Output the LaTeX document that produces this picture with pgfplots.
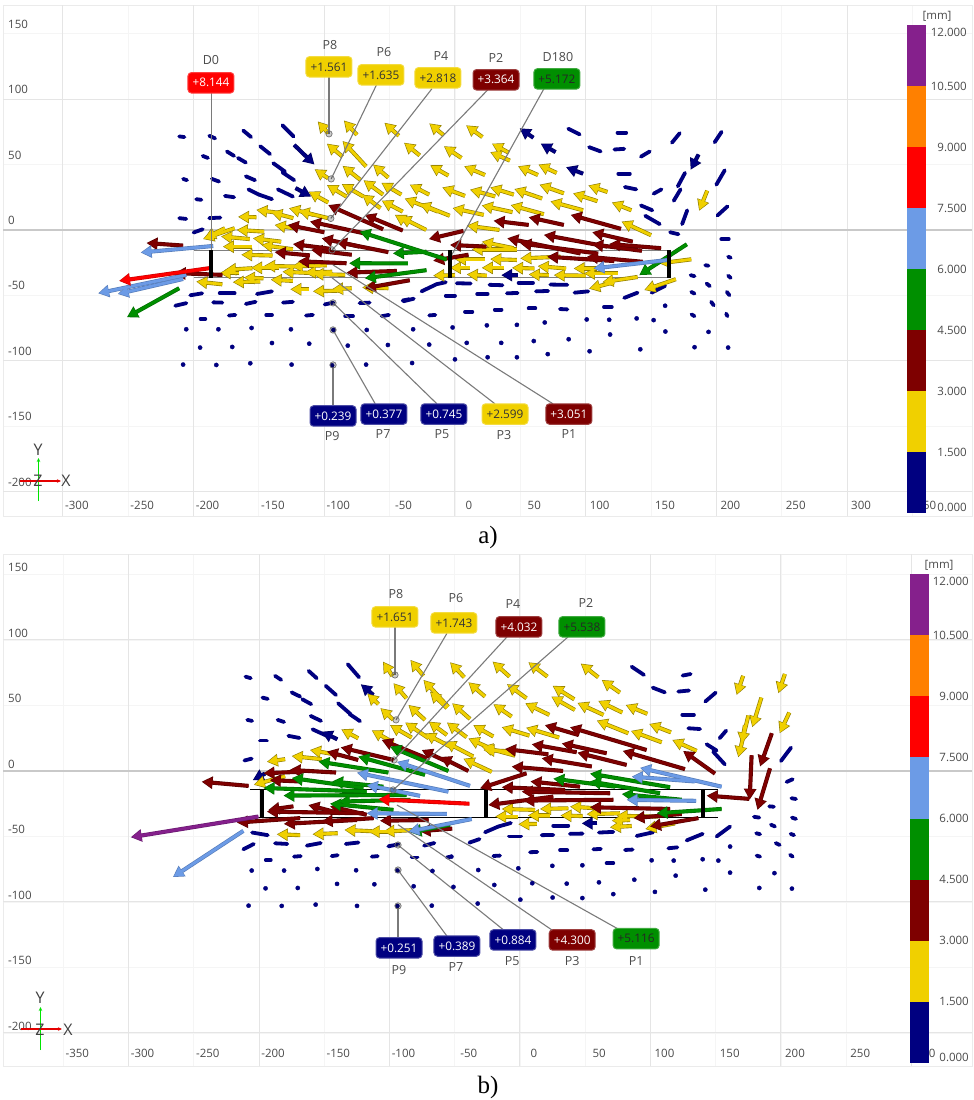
\documentclass[border=0pt]{standalone}
\usepackage{fontspec}
\setmainfont{Open Sans}
\newfontfamily\capfont{Liberation Serif}
\usepackage{pgfplots}
\usepackage{pgfplotstable}
\pgfplotsset{compat=1.18}
\usetikzlibrary{arrows.meta}
\definecolor{cnavy}{HTML}{000080}
\definecolor{cyel}{HTML}{F0D000}
\definecolor{cmar}{HTML}{7E0000}
\definecolor{cgre}{HTML}{008F00}
\definecolor{cblu}{HTML}{6C9BE6}
\definecolor{cred}{HTML}{FF0000}
\definecolor{cora}{HTML}{FF8000}
\definecolor{cpur}{HTML}{85208C}
\definecolor{tl}{HTML}{4A4A4A}
\newcommand{\fs}{\fontsize{11.5}{13}\selectfont}
\newcommand{\fl}{\fontsize{11.8}{13}\selectfont}
\newcommand{\fn}{\fontsize{12.5}{14}\selectfont}
\newcommand{\arrowplot}[3]{%
\addplot[draw=#3,line width=4.1pt,no markers,-{Triangle[length=11pt,width=12pt]},quiver={u=\thisrow{tx}-\thisrow{x},v=\thisrow{ty}-\thisrow{y}}] table[x=x,y=y]{#1};
\addplot[draw=#2,line width=2.8pt,no markers,shorten >=1pt,-{Triangle[length=9.5pt,width=9.8pt]},quiver={u=\thisrow{tx}-\thisrow{x},v=\thisrow{ty}-\thisrow{y}}] table[x=x,y=y]{#1};
}
\newcommand{\dashplot}[1]{%
\addplot[draw=cnavy,line width=3.8pt,line cap=round,no markers,quiver={u=\thisrow{tx}-\thisrow{x},v=\thisrow{ty}-\thisrow{y}}] table[x=x,y=y]{#1};
}
\newcommand{\dotplot}[1]{%
\addplot[only marks,mark=*,mark size=2.1pt,color=cnavy] table[x=x,y=y]{#1};
}
\tikzset{
 lab/.style={rounded corners=3.5pt,minimum width=46pt,minimum height=20.5pt,inner sep=0pt,font=\fl,line width=1pt},
 nav/.style={lab,fill=cnavy,draw=cnavy!70!white,text=white},
 yel/.style={lab,fill=cyel,draw=cyel!75!white,text=black!80},
 mar/.style={lab,fill=cmar,draw=cmar!75!white,text=white},
 gre/.style={lab,fill=cgre,draw=cgre!75!white,text=black!85},
 rd/.style={lab,fill=cred,draw=cred!75!white,text=white},
 nm/.style={font=\fn,text=tl,inner sep=0pt},
}
\pgfplotsset{
 panel/.style={scale only axis,width=969pt,height=511pt,
  axis line style={draw=gray!16,line width=.9pt},
  major tick length=0pt,tick style={draw=none},
  xmajorgrids,ymajorgrids,grid style={draw=gray!8,line width=.9pt},
  tick label style={text=tl,font=\fs,inner sep=0pt},
  ytick={-200,-150,...,150},yticklabels={-200,-150,-100,-50,0,50,100,150},
  extra y ticks={-200,-100,0,100},extra y tick labels={},
  extra tick style={grid=major,grid style={draw=gray!20,line width=1pt}},
 },
 cbar/.style={scale only axis,width=19pt,xmin=0,xmax=1,ymin=0,ymax=12,
  axis line style={draw=none},major tick length=0pt,tick style={draw=none},xtick=\empty,
  ytick={0.13,1.5,3,4.5,6,7.5,9,10.5,11.83},
  yticklabels={0.000,1.500,3.000,4.500,6.000,7.500,9.000,10.500,12.000},
  yticklabel pos=right,
  tick label style={text=tl,font=\fs,inner sep=0pt},
 },
 seg/.style={fill=#1,draw=none,area legend},
}
\newcommand{\cbarfill}{%
\addplot[seg=cnavy] coordinates {(0,0)(1,0)(1,1.5)(0,1.5)} -- cycle;
\addplot[seg=cyel] coordinates {(0,1.5)(1,1.5)(1,3)(0,3)} -- cycle;
\addplot[seg=cmar] coordinates {(0,3)(1,3)(1,4.5)(0,4.5)} -- cycle;
\addplot[seg=cgre] coordinates {(0,4.5)(1,4.5)(1,6)(0,6)} -- cycle;
\addplot[seg=cblu] coordinates {(0,6)(1,6)(1,7.5)(0,7.5)} -- cycle;
\addplot[seg=cred] coordinates {(0,7.5)(1,7.5)(1,9)(0,9)} -- cycle;
\addplot[seg=cora] coordinates {(0,9)(1,9)(1,10.5)(0,10.5)} -- cycle;
\addplot[seg=cpur] coordinates {(0,10.5)(1,10.5)(1,12)(0,12)} -- cycle;
}
%====================== PANEL A
\pgfplotstableread{
x y tx ty
-211 71.5 -207 71
-188 72 -183.5 70
-162 76 -156 71
-132 80 -123.5 71.5
-193 56.6 -189 55
-174.5 60 -169 56.6
-166 55 -160 51.5
-149 64 -141.5 58
-208 39 -205 38
-186 39 -180.5 37
-160 41 -153 38
-139 51 -130 44.6
-132 44 -123 38
-198 23.5 -194 23
-176 26 -169 25
-158 31 -150 27
-150 27 -140 23.5
-135.5 31 -124 25.5
-211 9 -205.6 8.4
-188 9 -179.5 9.4
-200 -2 -193 0.5
-202.5 -50 -193.4 -48.5
-180 -48.5 -168.6 -48.5
-151.5 -49 -140 -47
-214 -58 -205.5 -56
-185 -55.4 -178 -55.6
-160 -56.6 -152.5 -55
-131.6 -55.6 -124 -55
-99.7 -57 -93 -55.6
-73 -56 -65.3 -55.6
-40 -54 -35 -53
-194.6 -68 -191 -68
-173 -65.5 -168 -65
-144.4 -65 -140 -65
-114 -65.5 -108.7 -65
-84 -66 -78 -66
-56 -66 -50.5 -65
86.7 77.4 95.4 73
124.4 74.4 131 74.4
166 66.7 172 74
198.7 67 204 75
102.6 63.3 111.5 60
122 61.5 129.5 62
142.3 56 149 60
125 43 133.8 43
170.5 33.3 176 43.6
200 34.6 206.4 45.6
130 32.8 138.7 31
152 27.7 158 31
167.4 22.3 172.6 31
142.3 18.7 151 15
200.8 11 208.5 18
145.6 10.8 156.7 4.4
173.8 4.4 177.7 15
164.6 -1.8 171 -3.3
203.8 -7 209.5 -7
209 -20.5 211 -21.3
191.5 -27 194 -27.4
180.3 -34.6 183.3 -35.4
209 -35 211 -36.7
192.5 -41 195 -43
208 -47.4 210 -50
180.8 -47.4 183.3 -48.7
196 -55 198 -57.7
181 -64.6 183.3 -66
207.5 -64 208.5 -66
-19.7 -65.4 -15 -65
7.7 -62.6 13.3 -62.6
30.5 -61 35.6 -61
56.4 -60 61.5 -60
80.3 -60.5 86 -60.8
114 -59 120 -59
-39.5 -54.6 -31.5 -52.6
-7 -50.3 0 -50.3
17 -49 25 -49
39.7 -48.5 48 -48.2
62 -47 71.3 -46.7
91.5 -48 102 -47
129.5 -52 139.7 -48
150.5 -48 160.8 -42.8
-25.6 -47 -14 -41.5
-14 -41.5 -7 -40
1.3 -40.8 12 -41
26.4 -42 36.4 -42.3
48.7 -40.5 59.7 -40.5
73 -41.8 86 -42
}\aDash
\pgfplotstableread{
x y
-205.6 -76
-181 -76
-155.6 -75
-125.5 -76
-93 -76.5
-67.5 -76.5
-195 -90
-170.4 -89.5
-140 -86.5
-111.5 -87
-82 -88.5
-51.3 -88
-208 -103
-182.6 -103.3
-156.6 -102
-125 -103
-94 -103.6
-68 -103
160.8 -58
194 -78
161 -77.7
139 -67.7
152 -69
183.3 -89.7
209 -90
141.8 -91.3
103 -92.8
118.7 -80
118 -68.7
100.8 -68.5
87 -83.6
71 -95
60.3 -85
47.4 -97.4
35.4 -86.4
25 -97.4
9 -86.4
0 -99
-19.7 -87.7
-32.8 -101.8
-32 -76
-1.8 -74.6
24.4 -73
47.4 -72.6
68.7 -70.8
}\aDot
\pgfplotstableread{
x y tx ty
-123 65 -107.5 50
-122 32 -110 25.5
60 70.5 49.5 77.7
77 59.5 65.6 66
186.4 57.7 180.3 46
98 43 85 48
47.9 -34.6 35.4 -34.6
}\aNavyArr
\pgfplotstableread{
x y tx ty
-8.5 72.3 -19.7 81.5
21 71 8.5 80
41.3 59 28.3 66
5 55 -8.5 64
-27 57 -39 66.7
42 53 27 59.5
63.5 42 48.2 48.7
77.8 43.6 63.8 50
23 42 7 48.7
-5 41.5 -19 49.5
45 27 27 32.5
66.7 24 45.4 31.3
30.8 25.6 11.5 30.8
7.7 26 -9.7 32.5
-19.7 27 -34.6 34.6
83.3 28 64.6 34.6
109 22 90.3 28
116.7 29 102 34
135 15 120 21
98 15 73 21.8
68 12 42.6 19
44 13.6 20.5 18.7
22 11.5 -1.8 16.7
-4 10.8 -27 20
-13 14 -38.5 24
-22 0 -42 10
150 -4 127.4 6.4
34 0 9 3.3
44.9 -14 20.5 -9
180.8 -22.5 156.4 -25.6
23 -22.5 0 -22.5
47.4 -23 27 -22.3
80.8 -20.5 50 -21.8
11.5 -29 -3.8 -29
37.7 -29 20.5 -29
60.8 -29.5 43.6 -29
85 -29.5 63.3 -27.7
109 -29.5 90.8 -29.5
47.4 -15 12.8 -15
0 -34.6 -16.7 -35
24.4 -35 9 -34
71.8 -34.6 56.4 -34
100 -35 75.6 -34.6
124.4 -33.3 98.7 -33.3
139.7 -36 112.8 -40
121.8 -40 102.6 -45
169 -37.7 144.8 -46
193 30 186.8 14.6
-97 74 -105 83
-75 72.7 -85 83.7
-43 72 -54 82
-86 56 -98 66
-68 48.5 -86 68
-51 40 -62.7 50
-97 39.5 -107.4 46.4
-72 38 -86 49
-83 25.5 -98 34.4
-70 25.5 -86.6 35
-55 27 -70 38
-41 27 -56.3 36
-97 21 -112 29.3
-57 16.6 -71 27
-40 14 -56 22.4
-35 5 -46 11.5
-152 9.7 -166 10
-133 12.8 -152 15.3
-123.7 9 -140.6 13.5
-108 11.5 -127 16.6
-97 9 -119.7 14.5
-123.7 1.3 -138 3.8
-168.6 1.3 -192.8 -7
-176 1.3 -191.5 -6.4
-146 -1.3 -167 0
-157 -7 -179 -5
-155 -12.8 -177.6 -12.8
-133 -9 -154.6 -6.4
-124 -14.8 -148 -11.5
-139.6 -19.6 -163.5 -19
-155 -29.3 -176 -30.6
-135 -29 -156 -29
-122.7 -28 -146 -27.5
-98 -27 -125 -28
-109 -33 -132 -32
-94 -32 -115 -32.6
-84 -34.4 -109 -33.7
-165 -33 -180 -33
-146.5 -37 -161.5 -36.5
-178 -41.6 -198 -39.5
-149 -39.5 -170 -40
-124 -39 -141 -38
-111.6 -45.4 -126 -45.4
-87 -46.4 -108.7 -47
-79 -44.6 -94 -45.4
-51 -44.6 -71 -44
}\aYel
\pgfplotstableread{
x y tx ty
56.4 3.8 29.5 7
83.3 3.8 56.4 9.7
127 0.8 88.5 11.5
6.4 -0.8 -20 -7
24 -12.8 -3.8 -11.5
10.3 -19 -16.7 -23.6
136 -9 105 -1.8
116.7 -12.8 68 -3.8
157.7 -14 118 -10.8
143 -16 105 -11
96 -18 40 -6.4
109 -18 50 -10.3
143.6 -24.4 101 -20.5
121.8 -23.8 70.5 -20.5
-55 0.5 -97 19
-40 -0.5 -69 11.5
-70 -2.5 -111 6.4
-100 -1.8 -128 3.8
-51 -17 -91 -9
-73 -12.8 -102 -6.4
-95 -14.5 -124 -10.8
-79 -19 -110 -15.3
-111 -19.5 -138 -17
-83 -25.5 -120 -24
-44.5 -31.4 -83 -32.7
-34.6 -38.5 -69 -44.6
-208 -12 -236 -10
-178 -34.4 -214.5 -33
}\aMar
\pgfplotstableread{
x y tx ty
177.4 -11 141 -34.6
-6.4 -22.6 -73 -1.3
-21.8 -16.7 -47.5 -18
-36 -25.6 -81 -25.5
-21.8 -30.8 -69 -37
-211 -44.6 -251 -66.8
}\aGre
\pgfplotstableread{
x y tx ty
163 -23 105.9 -29.5
-185 -12.3 -240.5 -17.3
-205.6 -34.4 -273 -48.5
-208 -37.5 -258 -49
}\aBlu
\pgfplotstableread{
x y tx ty
-188 -29.3 -257 -39
}\aRed
%====================== PANEL B
\pgfplotstableread{
x y tx ty
-210.4 72 -206.3 70.8
-187.7 72.6 -183 69.5
-162 76.4 -155.8 70.8
-132 81.5 -123.3 71.5
-197.4 56 -193.3 55
-175 60 -168.5 56.8
-166.8 54.7 -160 51
-148.9 65 -141 58
-139.4 51.7 -130 43.5
-130.7 43.5 -122.6 38
-209 39 -205.3 38.2
-185.7 39 -180.8 37.4
-160.4 42 -152.5 38.2
-159 31.8 -148 26.8
-177.5 26.8 -169 25.2
-199.2 23.2 -194 23.2
-211.2 8 -205.6 9.4
-205.3 -47 -193.3 -49
-212 -59.8 -204 -55.7
-187.7 -55.2 -178.3 -55.7
-163.4 -57 -152.7 -55
-133.5 -55.7 -123.8 -54.6
-100.9 -57.5 -93.2 -56
-73.5 -57 -65.6 -55
-194.8 -68 -191 -68
-173.2 -65.4 -168 -65
-144.3 -65 -139.7 -64.3
-113.6 -65.4 -109 -65
-83 -66 -78.6 -66
-56 -66 -53.6 -65.5
85.6 79.6 95 73.3
124.6 72.8 130.8 74
142 53 150 59.8
101.7 63.6 111 60
121.3 60.6 129.5 61.4
124.4 42.8 133.3 42.8
129 32.6 138 32
153 25 158 30.8
143 20.4 150.7 15.6
148 14.8 157 5
200 7.6 207.7 17.8
204.3 -8.4 209 -6.3
208 -20.8 211.5 -21.4
191 -27 194.6 -27.3
179.3 -35 183.4 -35.6
208.4 -35.6 211.5 -36.6
181 -47.5 184 -48.3
192.3 -41 195.4 -42.4
207.4 -48 210 -49
196 -55 199 -56.5
181.3 -64.6 184 -65.4
207 -64 209 -65.4
66.4 -70.4 71.5 -70.4
80.5 -60.3 86.3 -60
56.2 -59.8 62 -59.5
30.7 -60.5 36.2 -60.5
7.7 -62 13.3 -61.8
-20.4 -64.9 -15.3 -64.6
113.7 -59 120.6 -58.3
-38.8 -54.7 -31 -52
-8.4 -50 0.8 -50
16.6 -49 25.5 -48.8
38.3 -48 48 -47.8
60.5 -47 71.5 -46.5
89.4 -49.6 102 -46.8
127.7 -53 140 -48
150.7 -50 161 -42.4
-26.8 -46.8 -16.6 -42.4
-16.6 -42.4 -7 -39.7
25.5 -41.7 37 -41.7
}\bDash
\pgfplotstableread{
x y
-205.6 -76
-180.8 -76
-155.3 -74.8
-125.6 -75.8
-94 -76
-67.1 -76.3
-195 -89.6
-170.3 -89.3
-140.2 -86.2
-111.6 -86.5
-81.5 -88
-208 -102.8
-182.6 -103
-156.6 -102
-124.9 -103
-94 -103
-67.6 -102.8
161 -57.7
195 -78
161 -77.6
140 -67.4
152 -68.4
183.4 -89.3
208.4 -89.8
142 -90.6
103.4 -92.3
119.3 -79.9
117.8 -68.4
100.9 -68.2
87.6 -83
71.5 -94
60.5 -85
47.8 -97
35.8 -86
25 -96.6
9.4 -85.7
0.3 -98.2
-19.7 -87
-32.4 -101.2
-51 -88.5
47.8 -72
24.8 -72.4
-1.3 -74.3
-32 -75.6
-52.6 -65.4
}\bDot
\pgfplotstableread{
x y tx ty
-112.4 58 -122 66.2
-140 24.2 -152 30
-195.4 -2 -204.8 -7
59.3 -40 47.3 -40
}\bNavyArr
\pgfplotstableread{
x y tx ty
-42.7 71.5 -53.6 83
-8 72 -21 83.5
21 72 6.4 83
60 71.5 46.5 82
76.6 59.8 62.6 69.5
-26.8 56.8 -39.6 67.7
5 55.5 -10 66.3
41.6 54.7 25 65
-6.4 41.5 -20.4 51
22.5 42.8 4 51.7
42 46.6 24 56.8
64 42.8 44 52
78.4 44.6 60 53.5
97.6 43.6 81 50.4
-38.3 39.7 -52 51.7
-20.4 26.3 -35.8 35
7.2 27 -14 33.4
30 25.5 4.6 33
-40.9 25.8 -56 37
115.7 29.5 99 35.9
83 28.8 58.8 38.5
108.6 21.9 85 30.6
135.4 15.3 116.7 23.7
-35.8 11 -57.5 22.4
-21.7 -0.7 -43.4 9.4
-3.8 11.7 -29.4 18.6
-3.8 14.8 -28 16
-25.5 18.6 -39.6 24.8
11.5 -29.7 -14 -29
37 -28.5 15.3 -29
58.7 -28.5 38.3 -27.2
-1.3 -34.8 -19 -34.8
23 -34 6 -34
48 -34.4 31 -34
76.6 -32.3 51 -33
106 -34.8 74 -34.2
84.3 -37.4 70.3 -38
13 -40.4 -1.3 -40.7
85.6 -42 68.9 -43
118.8 -40 96 -44.3
171 72.6 166 58
203 74 198 59.3
185 56 178 33.4
206.4 44.6 199 28.8
175 42.3 167.3 10.4
172.4 35 170 21
-97.7 72.5 -105 83.5
-74 72.6 -84 84.8
-87 55.5 -97 67
-55 49 -74 69.5
-56 48 -69 60.6
-108.5 51 -117 59
-97 39 -107 48
-72.8 39 -85.5 50.4
-56 27.5 -70 37.7
-83 25.5 -99.6 35
-70 25 -88 37
-97 21.7 -113.6 31
-124 25 -137 31.8
-53.6 18.6 -72.8 28.7
-137.9 12 -161 16
-152 9 -175 11.4
-180 9 -194 7
-180 -4 -204 -10.6
-168.5 -49 -186.4 -48.3
-139.7 -47.5 -159 -48.3
-113.6 -46 -134.6 -45
-100.9 -46.3 -116 -46.3
-79 -45 -104.7 -46.3
}\bYel
\pgfplotstableread{
x y tx ty
193 28.8 184 3.4
191.6 2 182 -29.7
177.5 12 176 -22
175.7 -21.3 143 -18.8
149.4 -2 125 15.3
126.4 1.4 78.7 15.3
97 16 38.3 33.4
44.7 27.5 19 35
81.7 4.6 44 14
66.4 13.5 32 21
43.4 14.3 9 20.4
21.7 12.7 -11.5 16.8
55 3.4 16.6 9.7
33 0 -6.4 3.3
5 -1.8 -30.7 -13.3
-39.6 0 -61 10.7
46 -12 8 -8
34.5 -14.5 -14 -12.4
69 -17 1.3 -15.8
71.5 -22 2.5 -22.6
25.5 -19.6 -24.3 -26
115 -29 53.6 -27.7
124 -32.8 87 -36
136.7 -36 99.6 -42.4
-97 8.4 -137.4 18
-71.5 9.7 -106 23.7
-53.6 6 -75.3 16
-124 8.4 -148 14.8
-141 -1.2 -176.6 0.8
-166 -0.5 -196.6 -1.8
-208 -11.4 -244 -8.2
-168.5 -8 -191.7 -7
-119.8 -32.3 -194 -31
-168.5 -36 -217 -39.4
-125 -37.4 -181 -40.4
-112 -36 -152 -38.6
-70 -37.4 -107.3 -38
-138 -32.3 -162.2 -26
-173.7 -27 -192.8 -29.7
-117.5 -33.4 -145.6 -27
-52 -44 -77 -46
}\bMar
\pgfplotstableread{
x y tx ty
115 -12.4 53.6 -2
73 -12 25.5 -5.9
107.3 -17 53.6 -8
124 -22 78 -17.6
154.5 -29 104.7 -32.3
-54.9 0 -99.6 18.6
-72.8 -3 -124 11
-100.9 -1.2 -154.5 7.2
-120 -13 -174.9 -5.4
-104.7 -12 -144 -8
-86.8 -18.3 -181.3 -18.8
-117.5 -15.7 -196.6 -13
-84 -22 -139 -23.4
-97 -29.7 -145.6 -25
-53.6 -41 -84 -47
}\bGre
\pgfplotstableread{
x y tx ty
154.5 -12 92 2.4
134 -8 85.6 -4.3
134.9 -22.8 81.7 -22
-54.9 -15.8 -125 -1.3
-38.3 -11.4 -94.3 7
-76.6 -19 -117.5 -10.7
-56 -32.8 -117.5 -32.3
-37 -36.7 -85.5 -46.3
-212 -45.7 -266 -81
}\bBlu
\pgfplotstableread{
x y tx ty
-38.8 -25 -108.5 -21.6
}\bRed
\pgfplotstableread{
x y tx ty
-200.5 -34.8 -298.3 -50.6
}\bPur
\newcommand{\leader}[4]{\addplot[draw=black!52,line width=1.1pt,no markers] coordinates {(#1,#2)(#3,#4)};}
\begin{document}
\begin{tikzpicture}[x=1pt,y=1pt]
\useasboundingbox (0,0) rectangle (974,-1100);
%---------------- a
\begin{axis}[panel,at={(3pt,-516pt)},anchor=south west,
 xmin=-345.8,xmax=395.6,ymin=-218.8,ymax=172,
 xtick={-300,-250,...,350},xticklabels={-300,-250,-200,-150,-100,-50,0,50,100,150,200,250,300,350},
 extra x ticks={-300,-200,-100,0,100,200,300},extra x tick labels={},
 xticklabel style={anchor=center,xshift=14pt,yshift=11pt},
 yticklabel style={anchor=west,xshift=5pt,yshift=9.5pt},
]
\addplot[draw=gray!42,line width=1.2pt,no markers] coordinates {(-345.8,0)(395.6,0)};
\addplot[draw=black!50,line width=1.3pt,no markers] coordinates {(-200,-16)(165,-16)};
\addplot[draw=black!50,line width=1.3pt,no markers] coordinates {(-200,-36.5)(165,-36.5)};
\dashplot{\aDash}
\dotplot{\aDot}
\arrowplot{\aNavyArr}{cnavy}{cnavy!70!black}
\arrowplot{\aYel}{cyel}{black!40!cyel}
\arrowplot{\aMar}{cmar}{cmar!70!black}
\arrowplot{\aGre}{cgre}{cgre!75!black}
\arrowplot{\aBlu}{cblu}{cblu!80!black}
\arrowplot{\aRed}{cred}{cred!80!black}
\leader{-186.5}{107}{-186.5}{-35}
\leader{-96.4}{117}{-96.4}{73.5}
\leader{-60}{111}{-94.7}{39}
\leader{-17.6}{108}{-95}{8.8}
\leader{25}{107}{-94}{-15.3}
\leader{68.1}{108}{-3.8}{-21.5}
\leader{-93.3}{-134.6}{-93.3}{-103.3}
\leader{-61}{-133}{-93.3}{-76.5}
\leader{-13.8}{-133}{-93.3}{-55.8}
\leader{30.6}{-133}{-94}{-36.7}
\leader{75}{-133}{-93.3}{-26.8}
\addplot[only marks,mark=*,mark size=3.2pt,color=black!55,mark options={line width=.7pt,fill=black,fill opacity=.2}] coordinates {(-96.4,73.5)(-94.7,39)(-95,8.8)(-94,-15.3)(-93.3,-103.3)(-93.3,-76.5)(-93.3,-55.8)};
\addplot[draw=black,line width=4pt,no markers] coordinates {(-186.5,-15.3)(-186.5,-37)};
\addplot[draw=black,line width=4pt,no markers] coordinates {(-3.8,-15.3)(-3.8,-37)};
\addplot[draw=black,line width=4pt,no markers] coordinates {(164,-15.3)(164,-37)};
\node[rd] at (axis cs:-186.7,112.5) {+8.144};\node[nm] at (axis cs:-186.7,130) {D0};
\node[yel] at (axis cs:-96.4,124.7) {+1.561};\node[nm] at (axis cs:-95.6,141.5) {P8};
\node[yel] at (axis cs:-56.6,118.6) {+1.635};\node[nm] at (axis cs:-54.3,136) {P6};
\node[yel] at (axis cs:-13,116.3) {+2.818};\node[nm] at (axis cs:-10.7,133) {P4};
\node[mar] at (axis cs:31.4,114.8) {+3.364};\node[nm] at (axis cs:31.4,131.6) {P2};
\node[gre] at (axis cs:78,115.5) {+5.172};\node[nm] at (axis cs:78.8,132.4) {D180};
\node[nav] at (axis cs:-93.3,-142.3) {+0.239};\node[nm] at (axis cs:-94,-157.6) {P9};
\node[nav] at (axis cs:-54.3,-140.8) {+0.377};\node[nm] at (axis cs:-55,-156) {P7};
\node[nav] at (axis cs:-8.4,-140.8) {+0.745};\node[nm] at (axis cs:-10,-156) {P5};
\node[yel] at (axis cs:38.3,-140.8) {+2.599};\node[nm] at (axis cs:37.5,-156.8) {P3};
\node[mar] at (axis cs:87.2,-140.8) {+3.051};\node[nm] at (axis cs:87.2,-156) {P1};
\end{axis}
\begin{axis}[cbar,at={(907pt,-513pt)},anchor=south west,height=488pt,yticklabel style={anchor=east,xshift=41pt}]
\cbarfill
\end{axis}
\node[font=\fs,text=tl,inner sep=0pt] at (937,-16) {[mm]};
%---------------- triad a
\draw[draw=green!90!black,line width=1.3pt,-{Stealth[length=4pt,width=3.5pt]}] (38.5,-501) -- (38.5,-458);
\draw[draw=red!90!black,line width=1.3pt,-{Stealth[length=4pt,width=3.5pt]}] (20,-481) -- (61,-481);
\node[font=\fontsize{16}{17}\selectfont,text=black!75,inner sep=0pt] at (38,-450) {Y};
\node[font=\fontsize{16}{17}\selectfont,text=black!75,inner sep=0pt] at (66,-481) {X};
\node[font=\fontsize{16}{17}\selectfont,text=black!75,inner sep=0pt] at (38,-481) {Z};
\node[font=\capfont\fontsize{25}{26}\selectfont,inner sep=0pt] at (488,-537) {a)};
%---------------- b
\begin{axis}[panel,at={(3pt,-1066pt)},anchor=south west,height=512pt,
 xmin=-396.2,xmax=346.4,ymin=-225.2,ymax=165.6,
 xtick={-350,-300,...,300},xticklabels={-350,-300,-250,-200,-150,-100,-50,0,50,100,150,200,250,300},
 extra x ticks={-300,-200,-100,0,100,200,300},extra x tick labels={},
 xticklabel style={anchor=center,xshift=14pt,yshift=13pt},
 yticklabel style={anchor=west,xshift=5pt,yshift=7pt},
]
\addplot[draw=gray!42,line width=1.2pt,no markers] coordinates {(-396.2,0)(346.4,0)};
\addplot[draw=black,line width=.9pt,no markers] coordinates {(-207,-14.2)(152,-14.2)};
\addplot[draw=black,line width=.9pt,no markers] coordinates {(-207,-35.6)(152,-35.6)};
\dashplot{\bDash}
\dotplot{\bDot}
\arrowplot{\bNavyArr}{cnavy}{cnavy!70!black}
\arrowplot{\bYel}{cyel}{black!40!cyel}
\arrowplot{\bMar}{cmar}{cmar!70!black}
\arrowplot{\bGre}{cgre}{cgre!75!black}
\arrowplot{\bBlu}{cblu}{cblu!80!black}
\arrowplot{\bRed}{cred}{cred!80!black}
\arrowplot{\bPur}{cpur}{cpur!80!black}
\leader{-95.8}{110}{-95.8}{73.3}
\leader{-56}{105}{-95}{39}
\leader{-10}{102.3}{-96.5}{8.4}
\leader{36.8}{102.3}{-97.3}{-14.5}
\leader{-93.5}{-127.5}{-93.5}{-103}
\leader{-56}{-126}{-93.5}{-75.6}
\leader{-13}{-121}{-93.5}{-56.5}
\leader{24.5}{-121.4}{-93.5}{-41}
\leader{76.6}{-121.4}{-94.3}{-26}
\addplot[only marks,mark=*,mark size=3.2pt,color=black!55,mark options={line width=.7pt,fill=black,fill opacity=.2}] coordinates {(-95.8,73.3)(-95,39)(-96.5,8.4)(-97.3,-14.5)(-93.5,-103)(-93.5,-75.6)(-93.5,-56.5)};
\addplot[draw=black,line width=4pt,no markers] coordinates {(-198,-14.2)(-198,-35.6)};
\addplot[draw=black,line width=4pt,no markers] coordinates {(-26,-14.2)(-26,-35.6)};
\addplot[draw=black,line width=4pt,no markers] coordinates {(140,-14.2)(140,-35.6)};
\node[yel] at (axis cs:-95.8,117.6) {+1.651};\node[nm] at (axis cs:-95,135) {P8};
\node[yel] at (axis cs:-50.6,113) {+1.743};\node[nm] at (axis cs:-49,132) {P6};
\node[mar] at (axis cs:-0.8,110) {+4.032};\node[nm] at (axis cs:-5.4,127.5) {P4};
\node[gre] at (axis cs:47.5,110) {+5.538};\node[nm] at (axis cs:50.6,128) {P2};
\node[nav] at (axis cs:-92.7,-135) {+0.251};\node[nm] at (axis cs:-92.7,-152) {P9};
\node[nav] at (axis cs:-48.3,-133.6) {+0.389};\node[nm] at (axis cs:-49,-150) {P7};
\node[nav] at (axis cs:-5.4,-129) {+0.884};\node[nm] at (axis cs:-6,-145) {P5};
\node[mar] at (axis cs:40,-129) {+4.300};\node[nm] at (axis cs:40,-145) {P3};
\node[gre] at (axis cs:89,-128) {+5.116};\node[nm] at (axis cs:89,-145) {P1};
\end{axis}
\begin{axis}[cbar,at={(910pt,-1063pt)},anchor=south west,height=489pt,yticklabel style={anchor=east,xshift=40pt}]
\cbarfill
\end{axis}
\node[font=\fs,text=tl,inner sep=0pt] at (939,-565) {[mm]};
\draw[draw=green!90!black,line width=1.3pt,-{Stealth[length=4pt,width=3.5pt]}] (40.5,-1050) -- (40.5,-1007);
\draw[draw=red!90!black,line width=1.3pt,-{Stealth[length=4pt,width=3.5pt]}] (21,-1029) -- (62,-1029);
\node[font=\fontsize{16}{17}\selectfont,text=black!75,inner sep=0pt] at (40,-998) {Y};
\node[font=\fontsize{16}{17}\selectfont,text=black!75,inner sep=0pt] at (68,-1030) {X};
\node[font=\fontsize{16}{17}\selectfont,text=black!75,inner sep=0pt] at (40,-1030) {Z};
\node[font=\capfont\fontsize{25}{26}\selectfont,inner sep=0pt] at (488,-1087) {b)};
\end{tikzpicture}
\end{document}
